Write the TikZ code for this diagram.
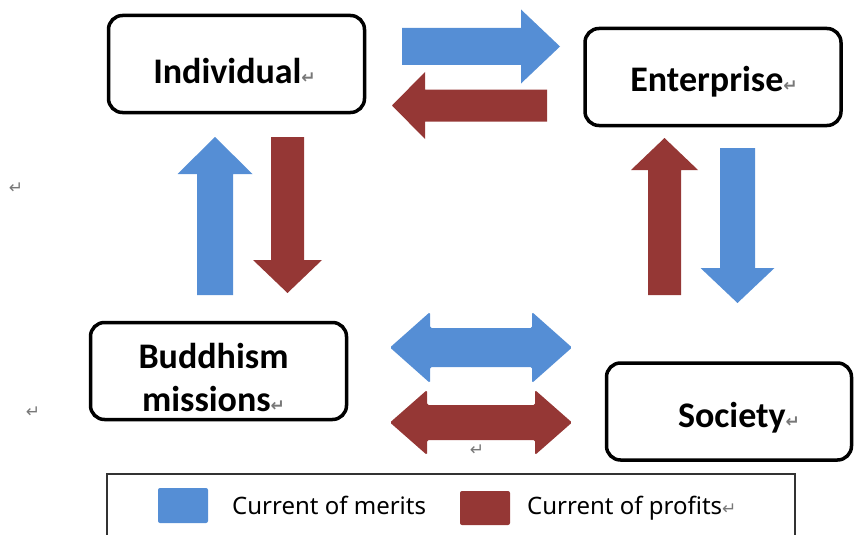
\documentclass[tikz,border=0pt]{standalone}
\usepackage{fontspec}
\setmainfont{Carlito}
\newfontfamily\legendfont{Noto Sans}
\newfontfamily\markfont{DejaVu Sans}

\definecolor{merit}{RGB}{85,142,213}
\definecolor{profit}{RGB}{149,55,53}
\definecolor{markgray}{RGB}{120,120,120}

\newcommand{\retmark}{{\markfont\fontsize{17}{17}\selectfont\textcolor{markgray}{↵}}}

% block arrow: colour, tail, direction, length, shaft half width, head half width, head length
\newcommand{\flowarrow}[7]{%
  \fill[#1, shift={#2}, rotate=#3] (0,-#5) -- ({#4-#7},-#5) -- ({#4-#7},-#6) -- (#4,0)
    -- ({#4-#7},#6) -- ({#4-#7},#5) -- (0,#5) -- cycle;}
% two-headed block arrow: colour, centre, length, shaft half width, head half width, head length
\newcommand{\twowayarrow}[6]{%
  \fill[#1, shift={#2}, rounded corners=1.5pt] ({-#3/2},0) -- ({-#3/2+#6},-#5) -- ({-#3/2+#6},-#4)
    -- ({#3/2-#6},-#4) -- ({#3/2-#6},-#5) -- ({#3/2},0) -- ({#3/2-#6},#5) -- ({#3/2-#6},#4)
    -- ({-#3/2+#6},#4) -- ({-#3/2+#6},#5) -- cycle;}

\begin{document}
\begin{tikzpicture}[x=1pt, y=-1pt,
    box/.style={draw, line width=3.5pt, rounded corners=14pt, minimum width=256pt, minimum height=97pt},
    title/.style={font=\bfseries\fontsize{36}{43}\selectfont, inner sep=0pt},
    legendtext/.style={font=\legendfont\fontsize{24}{24}\selectfont, inner sep=0pt, anchor=base west}]
    \useasboundingbox (0,0) rectangle (854,535);

    \node[box] (indiv) at (236.5,64) {};
    \node[box] (enter) at (713,77) {};
    \node[box] (buddh) at (218.5,371) {};
    \node[box, minimum width=245pt] (society) at (729,411.5) {};

    \node[title, anchor=base] (indivtext) at ([xshift=-2pt, yshift=-20pt]indiv.center) {Individual\retmark};
    \node[title, anchor=base] (entertext) at ([xshift=1pt, yshift=-15pt]enter.center) {Enterprise\retmark};
    \node[title, align=center] (buddhtext) at ([xshift=-5pt, yshift=-6pt]buddh.center) {Buddhism\\missions\retmark};
    \node[title, anchor=base] (societytext) at ([xshift=10pt, yshift=-15.5pt]society.center) {Society\retmark};

    \flowarrow{merit}{(402,46.5)}{0}{158}{18.5}{37}{39}
    \flowarrow{profit}{(547,105.5)}{180}{155}{16}{33.5}{33}
    \flowarrow{merit}{(215,295)}{90}{158}{18}{37.5}{37}
    \flowarrow{profit}{(287.5,137)}{270}{156}{16.5}{34.5}{33}
    \flowarrow{profit}{(664.5,295)}{90}{157}{16.5}{33.5}{32}
    \flowarrow{merit}{(737.5,148)}{270}{155}{17.5}{37}{35}
    \twowayarrow{merit}{(481,347.5)}{182}{19.5}{35.5}{40}
    \twowayarrow{profit}{(481,422.5)}{182}{17.5}{32.5}{37}

    \node (mark1) at (16,188) {\retmark};
    \node (mark2) at (33,412) {\retmark};
    \node (mark3) at (477,450) {\retmark};

    % legend
    \draw[line width=1.5pt, draw=black!80] (107,474) rectangle (795,545);
    \fill[merit, rounded corners=2pt] (158,488) rectangle (208,523);
    \node[legendtext] (meritkey) at (232,514) {Current of merits};
    \fill[profit, rounded corners=2pt] (460,491) rectangle (510,525);
    \node[legendtext] (profitkey) at (527,514) {Current of profits\retmark};
\end{tikzpicture}
\end{document}
